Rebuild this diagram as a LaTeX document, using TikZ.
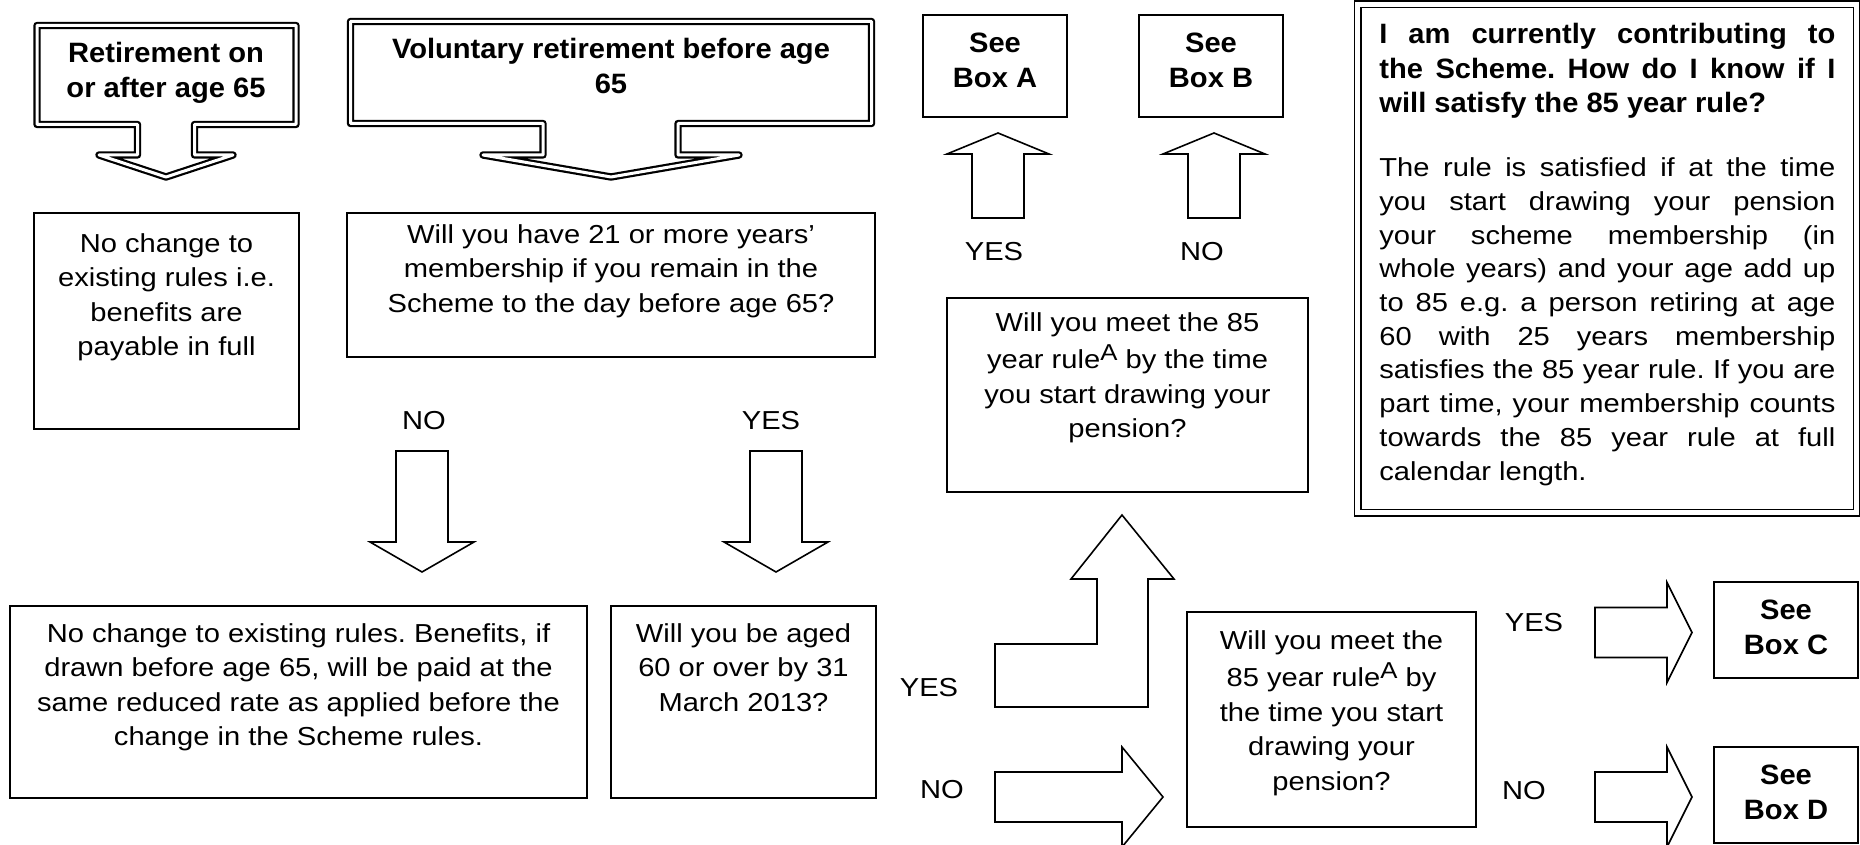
\documentclass[tikz,border=0pt]{standalone}
\usepackage{fontspec}
\setmainfont{Liberation Sans}[FakeStretch=1.12]
\newfontfamily\headfont{Liberation Sans}[FakeStretch=1.04]
\usetikzlibrary{positioning,fit}
\frenchspacing

\newcommand{\supA}{\raisebox{4.2pt}{\fontsize{11.5}{11.5}\selectfont A}}

\begin{document}
\begin{tikzpicture}[x=0.5pt,y=-0.5pt,
  box/.style={draw,line width=1pt,inner sep=0pt},
  callout/.style={draw,double,line width=1.1pt,double distance=1.5pt,line join=round},
  infobox/.style={draw,double,line width=0.9pt,double distance=2.2pt,inner sep=0pt},
  blockarrow/.style={draw,line width=0.8pt,line join=miter},
  txt/.style={font=\fontsize{13}{17.25}\selectfont,align=center,inner sep=0pt},
  head/.style={font=\headfont\bfseries\fontsize{14}{17.25}\selectfont,align=center,inner sep=0pt},
  lbl/.style={font=\fontsize{13}{15}\selectfont,inner sep=0pt}]
\useasboundingbox (0,0) rectangle (1860,845);

% starting points
\draw[callout] (37,25.5) -- (296,25.5) -- (296,124.5) -- (194.5,124.5) -- (194.5,155) -- (233,155) -- (166,177) -- (99,155) -- (137.5,155) -- (137.5,124.5) -- (37,124.5) -- cycle;
\node[head,anchor=north] (retire) at (166,42) {Retirement on\\or after age 65};
\draw[callout] (350.5,21.5) -- (871.5,21.5) -- (871.5,123.5) -- (678,123.5) -- (678,155) -- (739,155) -- (611,177) -- (483,155) -- (543,155) -- (543,123.5) -- (350.5,123.5) -- cycle;
\node[head,anchor=north] (volret) at (611,38) {Voluntary retirement before age\\65};

% question and answer boxes
\node[box,fit={(34,213) (299,429)}] (nochg) {};
\node[txt,below=10.5pt of nochg.north] (nochg-t) {No change to\\existing rules i.e.\\benefits are\\payable in full};
\node[box,fit={(347,213) (875,357)}] (member) {};
\node[txt,below=6pt of member.north] (member-t) {Will you have 21 or more years'\\membership if you remain in the\\Scheme to the day before age 65?};
\node[box,fit={(10,606) (587,798)}] (reduced) {};
\node[txt,below=9pt of reduced.north] (reduced-t) {No change to existing rules. Benefits, if\\drawn before age 65, will be paid at the\\same reduced rate as applied before the\\change in the Scheme rules.};
\node[box,fit={(611,606) (876,798)}] (aged) {};
\node[txt,below=9pt of aged.north] (aged-t) {Will you be aged\\60 or over by 31\\March 2013?};
\node[box,fit={(947,298) (1308,492)}] (ruleup) {};
\node[txt,below=7.5pt of ruleup.north] (ruleup-t) {Will you meet the 85\\[1.5pt]year rule\supA{} by the time\\you start drawing your\\pension?};
\node[box,fit={(1187,612) (1476,827)}] (ruledown) {};
\node[txt,below=9.5pt of ruledown.north] (ruledown-t) {Will you meet the\\[1.5pt]85 year rule\supA{} by\\the time you start\\drawing your\\pension?};

% see boxes
\foreach \n/\xa/\ya/\xb/\yb in {A/923/15/1067/117, B/1139/15/1283/117, C/1714/582/1858/678, D/1714/747/1858/843} {
  \node[box,fit={(\xa,\ya) (\xb,\yb)}] (box\n) {};
  \node[head,below=9.5pt of box\n.north] (box\n-t) {See\\Box \n};
}

% the 85 year rule
\node[infobox,fit={(1357.5,4.5) (1856.5,512.5)}] (info) {};
\node[anchor=north west,inner sep=0pt,text width=228pt,align=justify] (info-t) at (1379,23) {\parindent=0pt
{\headfont\bfseries\fontsize{14}{17.25}\selectfont I am currently contributing to\linebreak the Scheme. How do I know if I\linebreak will satisfy the 85 year rule?\par}
\vspace{15.2pt}
{\fontsize{13}{16.85}\selectfont The rule is satisfied if at the time\linebreak you start drawing your pension\linebreak your scheme membership (in\linebreak whole years) and your age add up\linebreak to 85 e.g. a person retiring at age\linebreak 60 with 25 years membership\linebreak satisfies the 85 year rule. If you are\linebreak part time, your membership counts\linebreak towards the 85 year rule at full\linebreak calendar length.\par}};

% block arrows
\foreach \cx in {998,1214}
  \draw[blockarrow] (\cx-26,218) -- (\cx+26,218) -- (\cx+26,154) -- (\cx+51,154) -- (\cx,133) -- (\cx-51,154) -- (\cx-26,154) -- cycle;
\foreach \cx in {422,776}
  \draw[blockarrow] (\cx-26,451) -- (\cx+26,451) -- (\cx+26,542) -- (\cx+52,542) -- (\cx,572) -- (\cx-52,542) -- (\cx-26,542) -- cycle;
\foreach \xa/\xb/\xt/\cy in {995/1122/1163/797, 1595/1667/1692/632.5, 1595/1667/1692/797}
  \draw[blockarrow] (\xa,\cy-25) -- (\xb,\cy-25) -- (\xb,\cy-50) -- (\xt,\cy) -- (\xb,\cy+50) -- (\xb,\cy+25) -- (\xa,\cy+25) -- cycle;
\draw[blockarrow] (995,707) -- (1148,707) -- (1148,579) -- (1174,579) -- (1122,515) -- (1071,579) -- (1097,579) -- (1097,644) -- (995,644) -- cycle;

% answers
\node[lbl] (yesA) at (994,252) {YES};
\node[lbl] (noB) at (1202,252) {NO};
\node[lbl] (no1) at (424,421) {NO};
\node[lbl] (yes1) at (771,421) {YES};
\node[lbl] (yes2) at (929,688) {YES};
\node[lbl] (no2) at (942,790) {NO};
\node[lbl] (yes3) at (1534,623) {YES};
\node[lbl] (no3) at (1524,791) {NO};
\end{tikzpicture}
\end{document}
